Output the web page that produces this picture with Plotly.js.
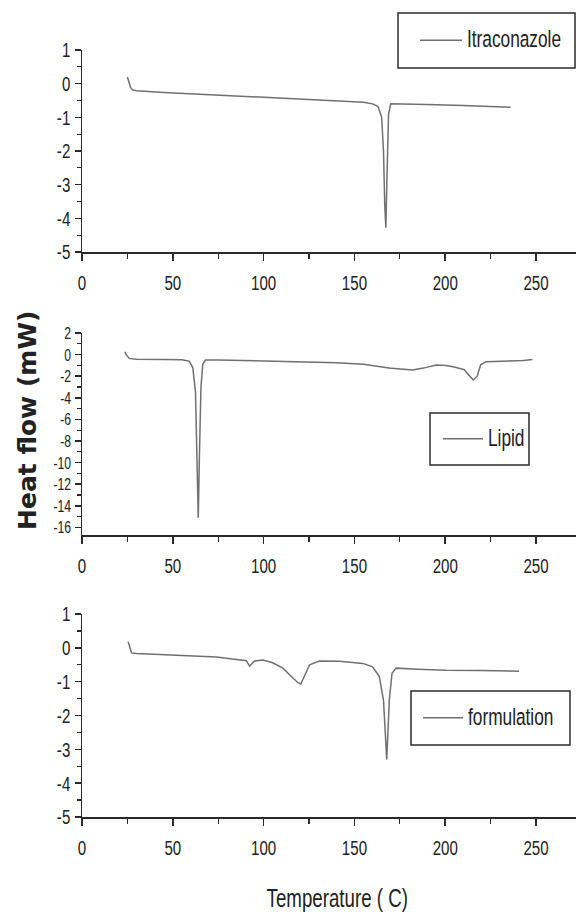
<!DOCTYPE html>
<html>
<head>
<meta charset="utf-8">
<script src="https://cdn.plot.ly/plotly-3.0.1.min.js"></script>
<style>
html,body{margin:0;padding:0;background:#fff;overflow:hidden;width:576px;height:915px;}
#chart{width:576px;height:915px;overflow:hidden;position:relative;}
</style>
</head>
<body>
<div id="chart"></div>
<script>
// Itraconazole (top panel)
const itraTemp = [25, 25.8, 26.8, 28, 30, 45, 60, 80, 100, 120, 140, 155, 160, 163, 165, 166, 166.7, 167.3, 168, 168.8, 170, 175, 190, 210, 236];
const itraHeat = [0.2, 0.05, -0.12, -0.19, -0.21, -0.26, -0.3, -0.35, -0.39, -0.45, -0.5, -0.55, -0.6, -0.68, -1.0, -2.0, -3.6, -4.28, -2.6, -0.9, -0.6, -0.6, -0.62, -0.65, -0.7];

// Lipid (middle panel)
const lipidTemp = [23.6, 24.5, 26, 30, 45, 55, 59, 61, 62.5, 63.3, 64, 64.7, 65.5, 66.5, 68, 75, 90, 110, 127, 140, 155, 169, 182, 188, 195, 200.5, 205, 208, 210.5, 213, 215.5, 217.6, 219.5, 222.5, 230, 237, 243, 248];
const lipidHeat = [0.25, -0.05, -0.35, -0.42, -0.45, -0.48, -0.6, -1.2, -3.5, -8.5, -15.1, -9, -3, -0.9, -0.5, -0.5, -0.55, -0.6, -0.65, -0.75, -0.9, -1.25, -1.43, -1.25, -0.97, -1.0, -1.15, -1.25, -1.4, -1.9, -2.35, -2.0, -0.95, -0.65, -0.62, -0.6, -0.55, -0.45];

// Formulation (bottom panel)
const formTemp = [25.4, 26.3, 27.3, 30, 46.5, 74, 90.5, 92.3, 95, 99.6, 105, 110.6, 115, 118.9, 120.5, 122.5, 125.3, 130.8, 141.8, 154.6, 160, 163.7, 166, 167.8, 169.2, 170.7, 172.9, 185, 200.4, 220, 240.7];
const formHeat = [0.18, 0.0, -0.15, -0.17, -0.21, -0.27, -0.38, -0.54, -0.39, -0.36, -0.44, -0.6, -0.83, -1.03, -1.07, -0.85, -0.5, -0.39, -0.4, -0.46, -0.56, -0.85, -1.55, -3.3, -1.55, -0.75, -0.6, -0.63, -0.66, -0.67, -0.69];

const seriesNames = ["Itraconazole", "Lipid", "formulation"];
const xTickVals = [0, 50, 100, 150, 200, 250];
const xMinorVals = [25, 75, 125, 175, 225];
const ySmallVals = [1, 0, -1, -2, -3, -4, -5];
const ySmallText = ["1", "0", "-1", "-2", "-3", "-4", "-5"];
const yLipidVals = [2, 0, -2, -4, -6, -8, -10, -12, -14, -16];
const yLipidText = ["2", "0", "-2", "-4", "-6", "-8", "-10", "-12", "-14", "-16"];
const xTitle = "Temperature ( C)";
const yTitle = "Heat flow (mW)";

const narrow = "Liberation Sans Narrow, Arial Narrow, Liberation Sans, Arial, sans-serif";
const lineColor = "#707070";
const axisColor = "#2a2a2a";
const condense = 0.72;
const legendScaleX = 0.96, legendScaleY = 1.33;

const traces = [
  {x: itraTemp, y: itraHeat, name: seriesNames[0], xaxis: "x", yaxis: "y", legend: "legend"},
  {x: lipidTemp, y: lipidHeat, name: seriesNames[1], xaxis: "x2", yaxis: "y2", legend: "legend2"},
  {x: formTemp, y: formHeat, name: seriesNames[2], xaxis: "x3", yaxis: "y3", legend: "legend3"}
].map(t => Object.assign(t, {type: "scatter", mode: "lines", line: {color: lineColor, width: 1.5}}));

function xAxis(anchor) {
  return {
    anchor: anchor, domain: [82/576, 1], range: [0, 272],
    showline: true, linewidth: 2, linecolor: axisColor, mirror: false,
    showgrid: false, zeroline: false,
    ticks: "outside", ticklen: 7, tickwidth: 1.5, tickcolor: axisColor,
    tickvals: xTickVals,
    minor: {ticks: "outside", tickvals: xMinorVals, ticklen: 5, tickwidth: 1.2, tickcolor: axisColor},
    tickfont: {family: narrow, size: 21, color: "#222"},
    ticklabelstandoff: 4,
    automargin: false, fixedrange: true
  };
}
function yAxis(anchor, dom, rng, vals, text, mdt, fs) {
  return {
    anchor: anchor, domain: dom, range: rng,
    showline: true, linewidth: 1.5, linecolor: axisColor,
    showgrid: false, zeroline: false,
    ticks: "outside", ticklen: 6, tickwidth: 1.5, tickcolor: axisColor,
    tickvals: vals, ticktext: text,
    minor: {ticks: "outside", dtick: mdt, tick0: 0, ticklen: 4, tickwidth: 1.2, tickcolor: axisColor},
    tickfont: {family: narrow, size: fs, color: "#222"},
    automargin: false, fixedrange: true
  };
}

function legendAt(x, y, w) {
  return {
    x: x, y: y, xanchor: "left", yanchor: "middle",
    bgcolor: "rgba(0,0,0,0)", borderwidth: 0,
    font: {family: narrow, size: 18, color: "#222"},
    itemwidth: w
  };
}

function box(x0, x1, y0, y1) {
  return {type: "rect", xref: "paper", yref: "paper",
    x0: x0/576, x1: x1/576, y0: 1 - y1/915, y1: 1 - y0/915,
    line: {color: axisColor, width: 1.5}};
}

const layout = {
  width: 576, height: 915,
  margin: {l: 0, r: 0, t: 0, b: 0},
  paper_bgcolor: "#fff", plot_bgcolor: "#fff",
  showlegend: true,
  xaxis: xAxis("y"),
  yaxis: yAxis("x", [1 - 252/915, 1 - 50/915], [-5, 1], ySmallVals, ySmallText, 0.5, 21),
  xaxis2: xAxis("y2"),
  yaxis2: yAxis("x2", [1 - 535/915, 1 - 333/915], [-16.7, 2], yLipidVals, yLipidText, 1, 17),
  xaxis3: xAxis("y3"),
  yaxis3: yAxis("x3", [1 - 817/915, 1 - 614/915], [-5, 1], ySmallVals, ySmallText, 0.5, 21),
  legend: legendAt(415/576, 1 - 40.5/915, 42),
  legend2: legendAt(438/576, 1 - 439/915, 40),
  legend3: legendAt(418/576, 1 - 718/915, 40),
  shapes: [
    box(398, 575, 13, 68),
    box(430, 529, 413, 465),
    box(411, 570, 691, 745)
  ],
  annotations: [
    {text: yTitle, xref: "paper", yref: "paper", x: 27/576, y: 1 - 421/915,
     xanchor: "center", yanchor: "middle", textangle: -90, showarrow: false,
     font: {family: "DejaVu Sans, Verdana, sans-serif", size: 25, color: "#222", weight: "bold"}},
    {text: xTitle, xref: "paper", yref: "paper", x: 337/576, y: 1 - 898/915,
     xanchor: "center", yanchor: "middle", showarrow: false,
     font: {family: narrow, size: 26, color: "#222"}}
  ]
};

function condenseTexts(gd) {
  gd.querySelectorAll("svg text").forEach(t => {
    if (t.textContent === yTitle || t.getAttribute("data-cond")) return;
    const x = parseFloat(t.getAttribute("x")) || 0;
    const y = parseFloat(t.getAttribute("y")) || 0;
    const tr = t.getAttribute("transform") || "";
    const isLegend = seriesNames.includes(t.textContent.trim());
    const sx = isLegend ? legendScaleX : condense;
    const sy = isLegend ? legendScaleY : 1;
    t.setAttribute("data-cond", "1");
    t.setAttribute("transform", tr + " translate(" + x + "," + y + ") scale(" + sx + "," + sy + ") translate(" + (-x) + "," + (-y) + ")");
  });
}

Plotly.newPlot("chart", traces, layout, {displayModeBar: false, staticPlot: true}).then(gd => {
  condenseTexts(gd);
  setTimeout(() => condenseTexts(gd), 50);
});
</script>
</body>
</html>
